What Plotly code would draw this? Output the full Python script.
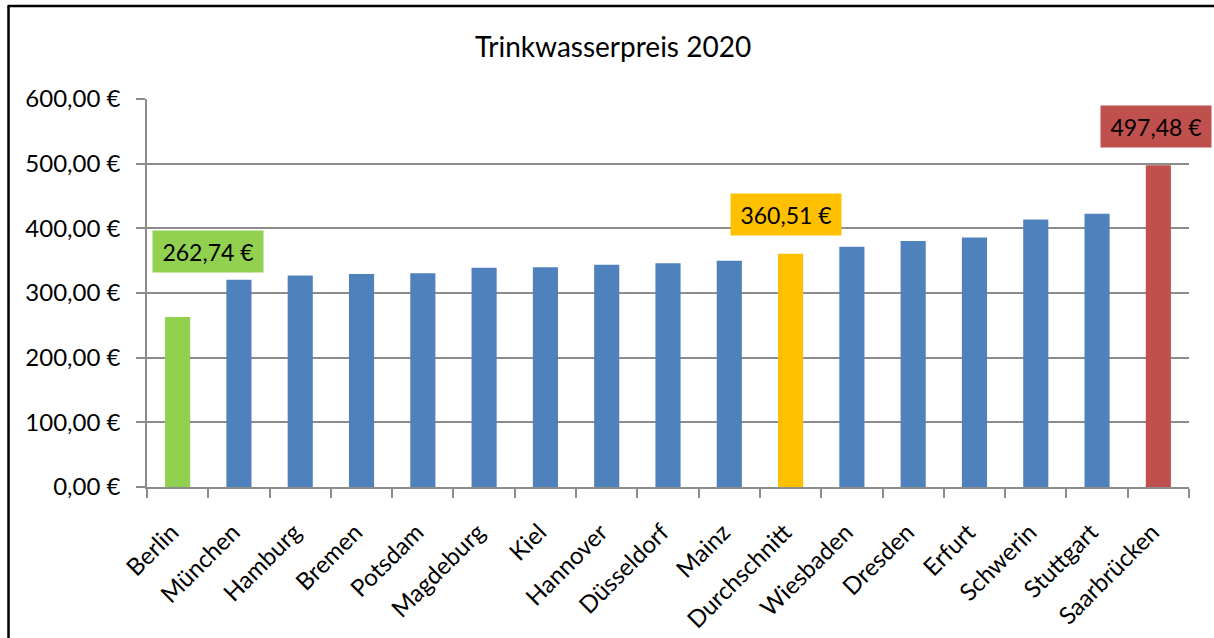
import plotly.graph_objects as go

# ---- data ----
cities = ["Berlin", "München", "Hamburg", "Bremen", "Potsdam", "Magdeburg", "Kiel",
          "Hannover", "Düsseldorf", "Mainz", "Durchschnitt", "Wiesbaden", "Dresden",
          "Erfurt", "Schwerin", "Stuttgart", "Saarbrücken"]
prices = [262.74, 320.5, 327.0, 329.5, 330.5, 339.0, 340.0,
          343.5, 346.0, 350.0, 360.51, 371.5, 380.5,
          386.0, 413.5, 422.5, 497.48]
y_ticks = [0, 100, 200, 300, 400, 500, 600]
y_tick_labels = ["0,00 €", "100,00 €", "200,00 €", "300,00 €", "400,00 €", "500,00 €", "600,00 €"]
highlight = {"Berlin": "#92D050", "Durchschnitt": "#FFC000", "Saarbrücken": "#C0504D"}
base_color = "#4F81BD"

def fmt(v):
    return f"{v:,.2f}".replace(",", "X").replace(".", ",").replace("X", ".") + " €"

W, H = 1214, 638
ML, MR, MT, MB = 147, 25, 99, 151
PW, PH = W - ML - MR, H - MT - MB

colors = [highlight.get(c, base_color) for c in cities]

fig = go.Figure(go.Bar(
    x=cities, y=prices, marker=dict(color=colors, line=dict(width=0)),
    hoverinfo="x+y",
))

FONT = "Lato, 'Open Sans', sans-serif"

# labelled bars: (city, xshift px, yshift px)
label_shift = {"Berlin": (30, 66), "Durchschnitt": (-5, 39), "Saarbrücken": (-2, 39)}
for c, (dx, dy) in label_shift.items():
    i = cities.index(c)
    fig.add_annotation(
        x=c, y=prices[i], xref="x", yref="y", text=fmt(prices[i]),
        showarrow=False, xshift=dx, yshift=dy,
        bgcolor=highlight[c], width=110, height=41, borderpad=0,
        font=dict(family=FONT, size=23, color="#000000"),
        xanchor="center", yanchor="middle",
    )

def px_to_paper_x(px):
    return (px - ML) / PW

def px_to_paper_y(py):
    return 1 - (py - MT) / PH

# chart frame (left and top edges visible)
fig.add_shape(type="line", xref="paper", yref="paper",
              x0=px_to_paper_x(8.5), x1=px_to_paper_x(8.5),
              y0=px_to_paper_y(6), y1=px_to_paper_y(640),
              line=dict(color="#000000", width=2.5))
fig.add_shape(type="line", xref="paper", yref="paper",
              x0=px_to_paper_x(7.5), x1=px_to_paper_x(1216),
              y0=px_to_paper_y(6), y1=px_to_paper_y(6),
              line=dict(color="#000000", width=2.5))

fig.update_layout(
    width=W, height=H,
    margin=dict(l=ML, r=MR, t=MT, b=MB, autoexpand=False),
    paper_bgcolor="#FFFFFF", plot_bgcolor="#FFFFFF",
    title=dict(text="Trinkwasserpreis 2020", x=(613) / W, xanchor="center",
               y=1 - 47 / H, yanchor="middle",
               font=dict(family=FONT, size=28, color="#000000")),
    bargap=0.59,
    showlegend=False,
    font=dict(family=FONT, size=23, color="#000000"),
)
fig.update_xaxes(
    type="category", tickangle=-45, tickson="boundaries",
    range=[-0.5, len(cities) - 0.5],
    showline=True, linecolor="#8C8C8C", linewidth=1.5,
    ticks="outside", ticklen=9, tickcolor="#8C8C8C", tickwidth=1.5,
    showgrid=False, tickfont=dict(family=FONT, size=24, color="#000000"),
    ticklabelstandoff=20, ticklabelshift=-6,
)
fig.update_yaxes(
    range=[0, 600], tickvals=y_ticks, ticktext=y_tick_labels,
    showline=True, linecolor="#8C8C8C", linewidth=1.5,
    ticks="outside", ticklen=9, tickcolor="#8C8C8C", tickwidth=1.5,
    showgrid=True, gridcolor="#8C8C8C", gridwidth=1.5,
    zeroline=False, ticklabelstandoff=11,
    tickfont=dict(family=FONT, size=24, color="#000000"),
)

fig.write_html("out.html", config={"displayModeBar": False},
               post_script="document.body.style.margin='0';document.body.style.overflow='hidden';")
